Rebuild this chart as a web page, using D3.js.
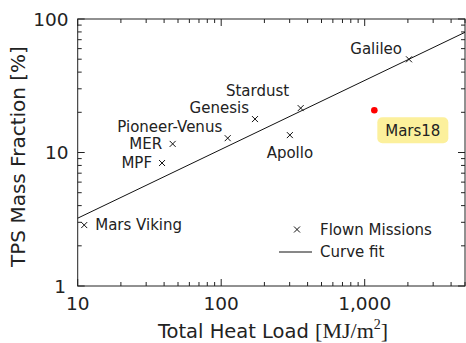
<!DOCTYPE html>
<html>
<head>
<meta charset="utf-8">
<script src="https://cdn.jsdelivr.net/npm/d3@7"></script>
<style>
  body { margin: 0; background: #fff; }
  svg { display: block; }
  text { fill: #222; font-family: "DejaVu Sans", sans-serif; }
</style>
</head>
<body>
<div id="chart"></div>
<script>
// flown missions: heat load [MJ/m2] vs TPS mass fraction [%]
const missions = ['Mars Viking', 'MPF', 'MER', 'Pioneer-Venus', 'Genesis', 'Stardust', 'Apollo', 'Galileo'];
const heatLoad = [11.1, 38.7, 45.9, 111, 172, 358, 301, 2036];
const massFraction = [2.86, 8.34, 11.6, 12.8, 17.8, 21.5, 13.5, 49.9];

// design point
const designName = 'Mars18';
const designHeat = [1167];
const designFrac = [20.7];

// curve fit end points
const fitHeat = [10, 5000];
const fitFrac = [3.22, 79.5];

const xTickValues = [10, 100, 1000];
const xTickLabels = ['10', '100', '1,000'];
const yTickValues = [1, 10, 100];
const yTickLabels = ['1', '10', '100'];

// label placement relative to the marker (layout only)
const labelPos = {
  'Mars Viking': {dx: 11, dy: 0, anchor: 'start'},
  'MPF': {dx: -10, dy: 0, anchor: 'end'},
  'MER': {dx: -10.5, dy: 0, anchor: 'end'},
  'Pioneer-Venus': {dx: -5.5, dy: -11.6, anchor: 'end'},
  'Genesis': {dx: -6, dy: -11, anchor: 'end'},
  'Stardust': {dx: -11.5, dy: -17.3, anchor: 'end'},
  'Apollo': {dx: 0, dy: 17.4, anchor: 'middle'},
  'Galileo': {dx: -7, dy: -11, anchor: 'end'}
};

const W = 466, H = 343;
const svg = d3.select('#chart').append('svg').attr('width', W).attr('height', H);

const pl = 77.7, pr = 465, pt = 19, pb = 286;
const x = d3.scaleLog().domain([10, 5000]).range([pl, pr]);
const y = d3.scaleLog().domain([1, 100]).range([pb, pt]);

// minor ticks 2..9 for each decade
const minorX = [];
[10, 100, 1000].forEach(d => { for (let k = 2; k <= 9; k++) if (d * k <= 5000) minorX.push(d * k); });
const minorY = [];
[1, 10].forEach(d => { for (let k = 2; k <= 9; k++) minorY.push(d * k); });

const axisColor = '#222';
const gAx = svg.append('g').attr('stroke', axisColor).attr('stroke-width', 1);

// inward ticks on all four sides
function tickSet(vals, len, scale, horiz) {
  vals.forEach(v => {
    const p = scale(v);
    if (horiz) {
      gAx.append('line').attr('x1', p).attr('x2', p).attr('y1', pb).attr('y2', pb - len);
      gAx.append('line').attr('x1', p).attr('x2', p).attr('y1', pt).attr('y2', pt + len);
    } else {
      gAx.append('line').attr('y1', p).attr('y2', p).attr('x1', pl).attr('x2', pl + len);
      gAx.append('line').attr('y1', p).attr('y2', p).attr('x1', pr).attr('x2', pr - len);
    }
  });
}
tickSet(xTickValues, 7, x, true);
tickSet(minorX, 4, x, true);
tickSet(yTickValues, 7, y, false);
tickSet(minorY, 4, y, false);

gAx.append('rect')
  .attr('x', pl).attr('y', pt)
  .attr('width', pr - pl).attr('height', pb - pt)
  .attr('fill', 'none');

// tick labels
svg.append('g').selectAll('text').data(xTickValues).join('text')
  .attr('x', d => x(d)).attr('y', 310)
  .attr('text-anchor', 'middle')
  .style('font-size', '18.5px')
  .text((d, i) => xTickLabels[i]);

svg.append('g').selectAll('text').data(yTickValues).join('text')
  .attr('x', (d, i) => i === 0 ? 66 : 68.5)
  .attr('y', d => y(d) + 0.5)
  .attr('dy', '0.35em')
  .attr('text-anchor', 'end')
  .style('font-size', '18.5px')
  .text((d, i) => yTickLabels[i]);

// axis titles
const xt = svg.append('text')
  .attr('x', 273).attr('y', 338)
  .attr('text-anchor', 'middle')
  .style('font-size', '19.5px');
xt.append('tspan').text('Total Heat Load ');
xt.append('tspan').style('font-family', '"Liberation Serif", serif').style('font-size', '22px')
  .text('[MJ/m');
xt.append('tspan').style('font-family', '"Liberation Serif", serif').style('font-size', '14px')
  .attr('dy', -9).text('2');
xt.append('tspan').style('font-family', '"Liberation Serif", serif').style('font-size', '22px')
  .attr('dy', 9).text(']');

svg.append('text')
  .attr('transform', `translate(24.5,${(pt + pb) / 2 + 4}) rotate(-90)`)
  .attr('text-anchor', 'middle')
  .style('font-size', '20px')
  .text('TPS Mass Fraction [%]');

// curve fit
const line = d3.line().x(d => x(d[0])).y(d => y(d[1]));
svg.append('path')
  .datum(fitHeat.map((h, i) => [h, fitFrac[i]]))
  .attr('d', line)
  .attr('fill', 'none').attr('stroke', '#111').attr('stroke-width', 1);

// flown missions markers
const pts = missions.map((m, i) => ({name: m, hx: heatLoad[i], fy: massFraction[i]}));
const mk = svg.append('g').selectAll('g').data(pts).join('g')
  .attr('transform', d => `translate(${x(d.hx)},${y(d.fy)})`);
mk.append('path')
  .attr('d', 'M-3,-3L3,3M-3,3L3,-3')
  .attr('stroke', '#111').attr('stroke-width', 1);
mk.append('text')
  .attr('x', d => labelPos[d.name].dx)
  .attr('y', d => labelPos[d.name].dy)
  .attr('dy', '0.35em')
  .attr('text-anchor', d => labelPos[d.name].anchor)
  .style('font-size', '15px')
  .text(d => d.name);

// design point
const dp = svg.append('g')
  .attr('transform', `translate(${x(designHeat[0])},${y(designFrac[0])})`);
dp.append('circle').attr('r', 3.3).attr('fill', '#f00');
dp.append('rect')
  .attr('x', 3).attr('y', 7)
  .attr('width', 71).attr('height', 26)
  .attr('rx', 5)
  .attr('fill', '#fcf09c');
dp.append('text')
  .attr('x', 38.5).attr('y', 20)
  .attr('dy', '0.35em')
  .attr('text-anchor', 'middle')
  .style('font-size', '15px')
  .text(designName);

// legend
const lg = svg.append('g');
lg.append('path').attr('d', 'M294,226.5L300,232.5M294,232.5L300,226.5')
  .attr('stroke', '#111').attr('stroke-width', 1);
lg.append('text').attr('x', 320).attr('y', 229.5).attr('dy', '0.35em')
  .style('font-size', '15px').text('Flown Missions');
lg.append('line').attr('x1', 279).attr('x2', 312).attr('y1', 252).attr('y2', 252)
  .attr('stroke', '#111').attr('stroke-width', 1);
lg.append('text').attr('x', 320).attr('y', 252).attr('dy', '0.35em')
  .style('font-size', '15px').text('Curve fit');
</script>
</body>
</html>
